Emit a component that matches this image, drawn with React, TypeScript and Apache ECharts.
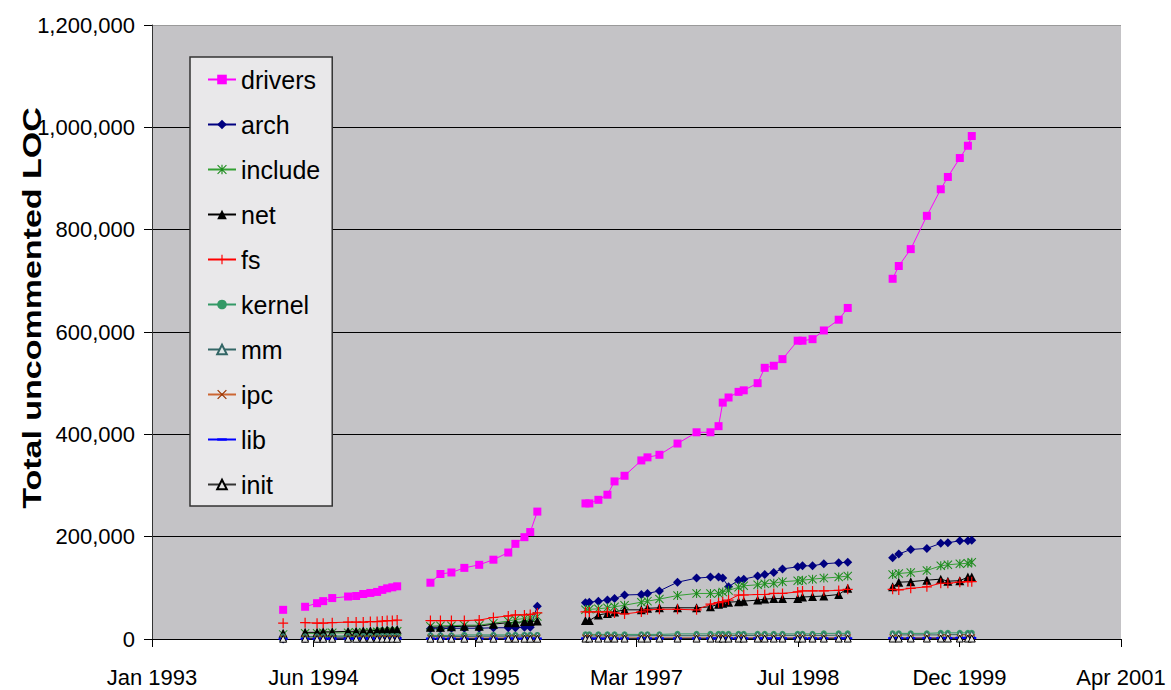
import React, { useEffect, useRef } from "react";
import * as echarts from "echarts";

// Release dates grouped by kernel series (gaps between groups)
const releaseDates: string[][] = [
  ["1994-03-13"],
  ["1994-05-20", "1994-06-26", "1994-07-15", "1994-08-12", "1994-09-30", "1994-10-25", "1994-11-16", "1994-12-08", "1994-12-29", "1995-01-14", "1995-01-29", "1995-02-14", "1995-03-01"],
  ["1995-06-12", "1995-07-13", "1995-08-16", "1995-09-25", "1995-11-10", "1995-12-24", "1996-02-08", "1996-03-01", "1996-03-29", "1996-04-16", "1996-05-08"],
  ["1996-10-04", "1996-10-16", "1996-11-13", "1996-12-11", "1997-01-02", "1997-02-02", "1997-03-26", "1997-04-14", "1997-05-21", "1997-07-16", "1997-09-13", "1997-10-26", "1997-11-20", "1997-12-03", "1997-12-21", "1998-01-21", "1998-02-06", "1998-03-21", "1998-04-12", "1998-05-10", "1998-06-06", "1998-07-23", "1998-08-07", "1998-09-07", "1998-10-12", "1998-11-27", "1998-12-25"],
  ["1999-05-13", "1999-06-01", "1999-07-08", "1999-08-27", "1999-10-09", "1999-10-31", "1999-12-07", "2000-01-01", "2000-01-13"],
];

const drivers: number[][] = [
  [57000],
  [63000, 70000, 74000, 80000, 83000, 84000, 88000, 90000, 92000, 96000, 99000, 101000, 103000],
  [110000, 127000, 130000, 139000, 145000, 155000, 169000, 186000, 199000, 209000, 249000],
  [265000, 265000, 272000, 282000, 308000, 319000, 349000, 355000, 360000, 382000, 404000, 404000, 416000, 462000, 472000, 483000, 486000, 500000, 530000, 534000, 547000, 583000, 583000, 586000, 603000, 624000, 647000],
  [704000, 729000, 762000, 827000, 879000, 903000, 940000, 964000, 983000],
];
const arch: number[][] = [
  [0],
  [1000, 1000, 1000, 2000, 2000, 2000, 2000, 2000, 3000, 3000, 3000, 3000, 3000],
  [20000, 20000, 21000, 21000, 21000, 22000, 22000, 22000, 23000, 23000, 64000],
  [71000, 72000, 74000, 76000, 79000, 86000, 87000, 89000, 94000, 111000, 119000, 121000, 121000, 119000, 102000, 115000, 117000, 123000, 126000, 130000, 137000, 141000, 143000, 143000, 147000, 149000, 150000],
  [159000, 166000, 175000, 177000, 187000, 188000, 192000, 192000, 193000],
];
const include: number[][] = [
  [9000],
  [11000, 11000, 12000, 12000, 12000, 13000, 13000, 13000, 14000, 14000, 14000, 15000, 15000],
  [25000, 26000, 26000, 27000, 27000, 31000, 35000, 38000, 40000, 42000, 44000],
  [57000, 58000, 59000, 61000, 63000, 66000, 72000, 74000, 78000, 85000, 89000, 89000, 89000, 92000, 95000, 101000, 104000, 106000, 108000, 109000, 112000, 114000, 115000, 117000, 119000, 121000, 123000],
  [126000, 128000, 130000, 134000, 143000, 145000, 147000, 148000, 150000],
];
const net: number[][] = [
  [11000],
  [13000, 13000, 14000, 14000, 15000, 15000, 16000, 16000, 17000, 17000, 18000, 18000, 19000],
  [23000, 23000, 24000, 25000, 25000, 29000, 32000, 32000, 34000, 34000, 35000],
  [36000, 36000, 47000, 50000, 53000, 57000, 57000, 60000, 61000, 61000, 61000, 63000, 68000, 70000, 72000, 73000, 74000, 76000, 78000, 79000, 79000, 79000, 82000, 83000, 84000, 87000, 99000],
  [102000, 111000, 112000, 115000, 117000, 113000, 114000, 121000, 121000],
];
const fs: number[][] = [
  [31000],
  [32000, 31000, 31000, 32000, 33000, 33000, 33000, 34000, 34000, 35000, 36000, 36000, 37000],
  [36000, 36000, 36000, 36000, 37000, 42000, 45000, 47000, 47000, 48000, 51000],
  [53000, 53000, 53000, 53000, 51000, 49000, 53000, 57000, 58000, 58000, 57000, 68000, 71000, 73000, 76000, 86000, 86000, 87000, 87000, 89000, 89000, 92000, 94000, 94000, 94000, 95000, 97000],
  [97000, 96000, 99000, 102000, 109000, 109000, 111000, 112000, 112000],
];
const kernel: number[][] = [
  [5000],
  [5000, 5000, 5000, 6000, 6000, 6000, 6000, 6000, 6000, 6000, 6000, 6000, 6000],
  [7000, 7000, 7000, 8000, 8000, 8000, 8000, 8000, 8000, 8000, 8000],
  [9000, 9000, 9000, 9000, 9000, 9000, 9000, 9000, 9000, 10000, 10000, 10000, 10000, 10000, 10000, 10000, 10000, 10000, 10000, 10000, 10000, 10000, 10000, 10000, 11000, 11000, 11000],
  [11000, 11000, 11000, 11000, 12000, 12000, 12000, 12000, 12000],
];
const mm: number[][] = [
  [4000],
  [4000, 4000, 4000, 4000, 4000, 4000, 4000, 4000, 4000, 4500, 4500, 4500, 4500],
  [5000, 5000, 5000, 5000, 5500, 5500, 5500, 5500, 5500, 6000, 6000],
  [6000, 6000, 6000, 6000, 6000, 6000, 6500, 6500, 6500, 6500, 6500, 6500, 6500, 6500, 6500, 7000, 7000, 7000, 7000, 7000, 7000, 7000, 7000, 7000, 7000, 7500, 7500],
  [8000, 8000, 8000, 8000, 8000, 8500, 8500, 8500, 8500],
];
const ipc: number[][] = [
  [1500],
  [1500, 1500, 1500, 1500, 1500, 1500, 1600, 1600, 1600, 1600, 1600, 1600, 1600],
  [2000, 2000, 2000, 2000, 2000, 2100, 2100, 2100, 2100, 2100, 2100],
  [2200, 2200, 2200, 2200, 2300, 2300, 2300, 2300, 2300, 2300, 2400, 2400, 2400, 2400, 2400, 2400, 2500, 2500, 2500, 2500, 2500, 2500, 2600, 2600, 2600, 2600, 2600],
  [2600, 2600, 2600, 2700, 2700, 2700, 2700, 2700, 2700],
];
const lib: number[][] = [
  [500],
  [500, 500, 500, 500, 500, 500, 500, 500, 500, 600, 600, 600, 600],
  [700, 700, 700, 700, 700, 800, 800, 800, 800, 800, 800],
  [1000, 1000, 1000, 1000, 1000, 1000, 1100, 1100, 1100, 1100, 1100, 1100, 1200, 1200, 1200, 1200, 1200, 1200, 1300, 1300, 1300, 1300, 1300, 1300, 1300, 1300, 1300],
  [1500, 1500, 1500, 1600, 1600, 1600, 2000, 2000, 2000],
];
const init: number[][] = [
  [500],
  [500, 500, 500, 500, 500, 500, 500, 500, 500, 500, 500, 500, 500],
  [600, 600, 600, 600, 600, 600, 600, 600, 600, 600, 600],
  [800, 800, 800, 800, 800, 800, 800, 800, 800, 800, 800, 800, 800, 800, 800, 800, 800, 800, 800, 800, 800, 800, 800, 800, 800, 800, 800],
  [900, 900, 900, 900, 900, 900, 900, 900, 900],
];

const yTicks = [0, 200000, 400000, 600000, 800000, 1000000, 1200000];
const monthNames = ["Jan", "Feb", "Mar", "Apr", "May", "Jun", "Jul", "Aug", "Sep", "Oct", "Nov", "Dec"];

const EXCEL_EPOCH = Date.UTC(1899, 11, 30);
const DAY = 86400000;
function toSerial(s: string): number {
  const [y, m, d] = s.split("-").map(Number);
  return Math.round((Date.UTC(y, m - 1, d) - EXCEL_EPOCH) / DAY);
}
function serialLabel(v: number): string {
  const dt = new Date(EXCEL_EPOCH + v * DAY);
  return monthNames[dt.getUTCMonth()] + " " + dt.getUTCFullYear();
}
function buildData(segs: number[][]): (number | null)[][] {
  const out: (number | null)[][] = [];
  segs.forEach((seg, i) => {
    if (i > 0) {
      const prev = releaseDates[i - 1];
      const gx = (toSerial(prev[prev.length - 1]) + toSerial(releaseDates[i][0])) / 2;
      out.push([gx, null]);
    }
    seg.forEach((v, j) => out.push([toSerial(releaseDates[i][j]), v]));
  });
  return out;
}

const PLUS = "path://M4.4,0h1.2v4.4h4.4v1.2h-4.4v4.4h-1.2v-4.4h-4.4v-1.2h4.4z";
const STAR = "path://M4.4,0h1.2v10h-1.2z M0,0.8L0.8,0L10,9.2L9.2,10z M9.2,0L10,0.8L0.8,10L0,9.2z";
const CROSS = "path://M0,0.9L0.9,0L10,9.1L9.1,10z M9.1,0L10,0.9L0.9,10L0,9.1z";
const DASH = "path://M0,0L0,0M10,10L10,10M0,3.8h10v2.4h-10z";

const FONT = "'Liberation Sans', Arial, sans-serif";

export default function App() {
  const ref = useRef<HTMLDivElement>(null);
  useEffect(() => {
    if (!ref.current) return;
    const chart = echarts.init(ref.current, undefined, { renderer: "svg" });
    const mk = (name: string, segs: number[][], opts: any) => ({
      name,
      type: "line",
      data: buildData(segs),
      connectNulls: false,
      showSymbol: true,
      symbol: opts.symbol,
      symbolSize: opts.size,
      itemStyle: {
        color: opts.fill,
        borderColor: opts.border || opts.fill,
        borderWidth: opts.border ? 1 : 0,
      },
      lineStyle: { color: opts.line, width: 1 },
      emphasis: { disabled: true },
    });
    const series = [
      mk("drivers", drivers, { symbol: "rect", size: 8, fill: "#ff00ff", line: "#ff00ff" }),
      mk("arch", arch, { symbol: "diamond", size: 9, fill: "#000080", line: "#000080" }),
      mk("include", include, { symbol: STAR, size: 9, fill: "#1e8c1e", line: "#33a033" }),
      mk("net", net, { symbol: "triangle", size: 9, fill: "#000000", line: "#000000" }),
      mk("fs", fs, { symbol: PLUS, size: 10, fill: "#ff0000", line: "#ff0000" }),
      mk("kernel", kernel, { symbol: "circle", size: 6, fill: "#339966", line: "#339966" }),
      mk("mm", mm, { symbol: "triangle", size: 7, fill: "#dfe8e8", border: "#336666", line: "#336666" }),
      mk("ipc", ipc, { symbol: CROSS, size: 7, fill: "#993300", line: "#cc6633" }),
      mk("lib", lib, { symbol: DASH, size: 9, fill: "#0000ff", line: "#0000ff" }),
      mk("init", init, { symbol: "triangle", size: 7, fill: "#e4e4e4", border: "#000000", line: "#333333" }),
    ];
    chart.setOption({
      animation: false,
      backgroundColor: "#ffffff",
      textStyle: { fontFamily: FONT },
      grid: {
        left: 152,
        right: 50,
        top: 25,
        bottom: 51,
        show: true,
        backgroundColor: "#c4c3c6",
        borderWidth: 0,
      },
      xAxis: {
        type: "value",
        min: 34000,
        max: 37000,
        interval: 500,
        axisLine: { show: true, onZero: false, lineStyle: { color: "#000", width: 1 } },
        axisTick: { show: true, length: 8, lineStyle: { color: "#000" } },
        splitLine: { show: false },
        axisLabel: {
          margin: 27,
          fontSize: 22,
          color: "#000",
          fontFamily: FONT,
          formatter: (v: number) => serialLabel(v),
        },
      },
      yAxis: {
        type: "value",
        min: yTicks[0],
        max: yTicks[yTicks.length - 1],
        interval: yTicks[1] - yTicks[0],
        axisLine: { show: true, lineStyle: { color: "#333", width: 1 } },
        axisTick: { show: true, length: 8, lineStyle: { color: "#000" } },
        splitLine: {
          show: true,
          lineStyle: { color: ["#000", "#000", "#000", "#000", "#000", "#000", "#9a9a9a"], width: 1 },
        },
        axisLabel: {
          margin: 17,
          fontSize: 22,
          color: "#000",
          fontFamily: FONT,
          formatter: (v: number) => v.toLocaleString("en-US"),
        },
      },
      legend: {
        orient: "vertical",
        left: 190,
        top: 57,
        selectedMode: false,
        itemWidth: 28,
        itemHeight: 12,
        itemGap: 20,
        padding: [10, 12, 9, 17],
        backgroundColor: "#e9e8ea",
        borderColor: "#333",
        borderWidth: 1.5,
        textStyle: { fontSize: 25, lineHeight: 25, color: "#000", fontFamily: FONT },
        data: series.map((s) => s.name),
      },
      graphic: [
        {
          type: "text",
          x: 32,
          y: 308,
          rotation: Math.PI / 2,
          scaleX: 1.36,
          style: {
            text: "Total uncommented LOC",
            font: "bold 25px " + FONT,
            fill: "#000",
            textAlign: "center",
            textVerticalAlign: "middle",
          },
        },
      ],
      series,
    });
    return () => chart.dispose();
  }, []);
  return (
    <div
      ref={ref}
      style={{ position: "absolute", left: 0, top: 0, width: 1171, height: 690 }}
    />
  );
}
